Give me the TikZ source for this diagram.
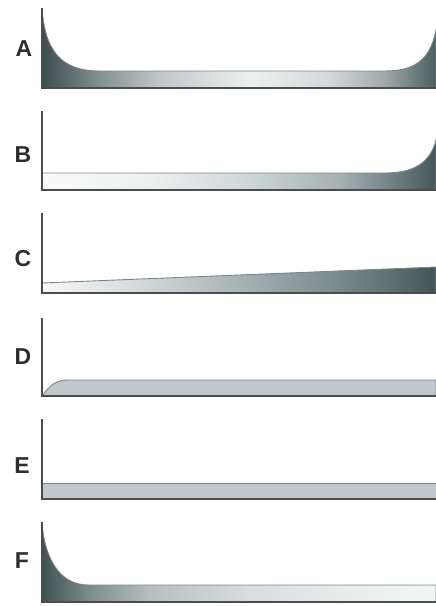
\documentclass[tikz,border=0pt]{standalone}
\usepackage{fontspec}
\setmainfont{Liberation Sans}
\definecolor{axiscol}{RGB}{75,77,77}
\definecolor{edgecol}{RGB}{128,134,136}
\definecolor{bandcol}{RGB}{192,200,205}
\definecolor{labcol}{RGB}{45,45,45}
\pgfdeclarehorizontalshading{shA}{100bp}{rgb(0bp)=(.24,.30,.31); rgb(25bp)=(.24,.30,.31); rgb(32.4bp)=(.52,.57,.58); rgb(40bp)=(.75,.78,.79); rgb(51.4bp)=(.93,.94,.94); rgb(61.5bp)=(.82,.85,.86); rgb(68.5bp)=(.62,.66,.67); rgb(75bp)=(.29,.37,.37); rgb(100bp)=(.29,.37,.37)}
\pgfdeclarehorizontalshading{shB}{100bp}{rgb(0bp)=(.98,.98,.98); rgb(25bp)=(.98,.98,.98); rgb(38.7bp)=(.93,.94,.94); rgb(51.4bp)=(.80,.84,.85); rgb(62.8bp)=(.65,.69,.70); rgb(69.2bp)=(.45,.51,.52); rgb(75bp)=(.28,.34,.35); rgb(100bp)=(.28,.34,.35)}
\pgfdeclarehorizontalshading{shC}{100bp}{rgb(0bp)=(.97,.97,.97); rgb(25bp)=(.97,.97,.97); rgb(34.9bp)=(.85,.88,.89); rgb(47.6bp)=(.69,.73,.74); rgb(60.3bp)=(.51,.57,.57); rgb(67.9bp)=(.39,.46,.46); rgb(75bp)=(.26,.33,.33); rgb(100bp)=(.26,.33,.33)}
\pgfdeclarehorizontalshading{shF}{100bp}{rgb(0bp)=(.25,.32,.32); rgb(25bp)=(.25,.32,.32); rgb(31.1bp)=(.49,.55,.56); rgb(38.7bp)=(.71,.75,.76); rgb(51.4bp)=(.84,.87,.88); rgb(64.1bp)=(.91,.93,.93); rgb(75bp)=(.95,.96,.96); rgb(100bp)=(.95,.96,.96)}
\tikzset{
  lab/.style={font=\fontsize{23}{23}\selectfont\bfseries, text=labcol, inner sep=0pt},
  axisline/.style={draw=axiscol, line width=1.3pt},
  bandedge/.style={draw=edgecol, line width=0.9pt},
}
\begin{document}
\begin{tikzpicture}[x=1pt,y=-1pt]
\useasboundingbox (0,0) rectangle (436,606);
% Labels
\node[lab] (la) at (24,48.5) {A};
\node[lab] (lb) at (23,155) {B};
\node[lab] (lc) at (23,259) {C};
\node[lab] (ld) at (23,357) {D};
\node[lab] (le) at (22,465.5) {E};
\node[lab] (lf) at (22,561) {F};
% A
\path[shading=shA, bandedge] (42,8) .. controls (45,52) and (62,71) .. (100,71) -- (385,71) .. controls (412,71) and (430,62) .. (436,30) -- (436,88) -- (42,88) -- cycle;
\draw[axisline] (42,8) -- (42,88) -- (436,88);
% B
\path[shading=shB, bandedge] (42,173) -- (385,173) .. controls (412,173) and (430,164) .. (436,140) -- (436,190) -- (42,190) -- cycle;
\draw[axisline] (42,111) -- (42,190) -- (436,190);
% C
\path[shading=shC, bandedge] (42,283) -- (436,267) -- (436,293) -- (42,293) -- cycle;
\draw[axisline] (42,213) -- (42,293) -- (436,293);
% D
\path[fill=bandcol, bandedge] (42,396) .. controls (50,385) and (56,380) .. (68,380) -- (436,380) -- (436,396) -- cycle;
\draw[axisline] (42,318) -- (42,396) -- (436,396);
% E
\path[fill=bandcol, bandedge] (42,483) -- (436,483) -- (436,499) -- (42,499) -- cycle;
\draw[axisline] (42,419) -- (42,499) -- (436,499);
% F
\path[shading=shF, bandedge] (42,522) .. controls (44,555) and (58,585) .. (88,585) -- (436,585) -- (436,602) -- (42,602) -- cycle;
\draw[axisline] (42,522) -- (42,602) -- (436,602);
\end{tikzpicture}
\end{document}
